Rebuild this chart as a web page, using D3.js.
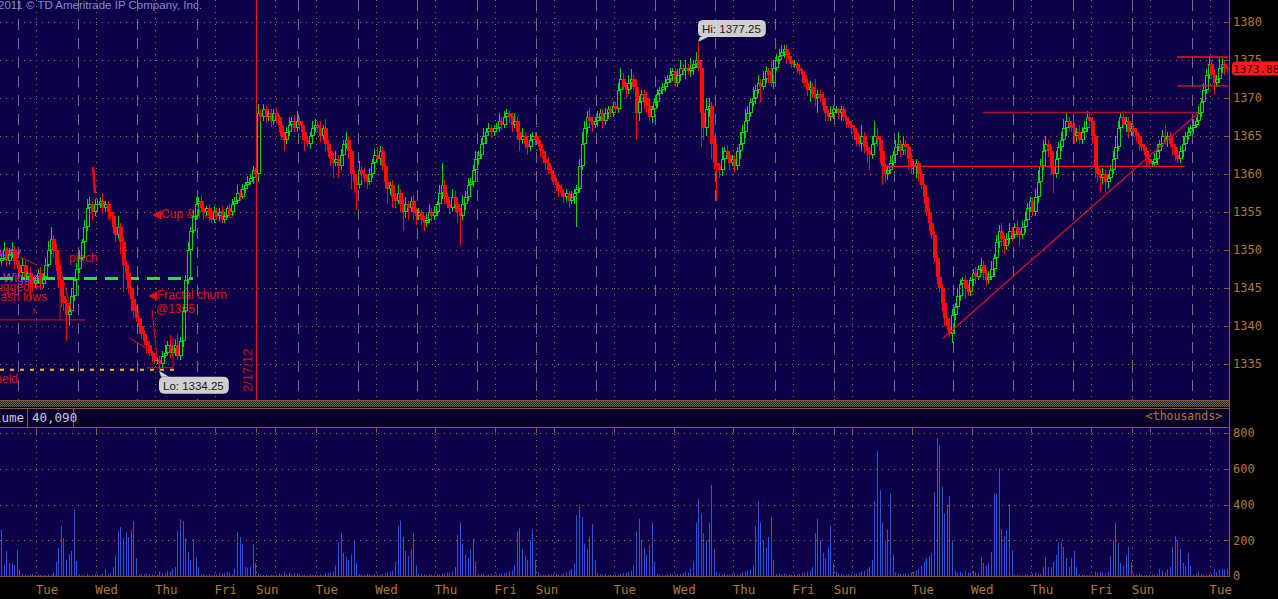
<!DOCTYPE html>
<html>
<head>
<meta charset="utf-8">
<script src="https://cdn.jsdelivr.net/npm/d3@7"></script>
<style>
  body { margin: 0; background: #000; }
  svg { display: block; }
</style>
</head>
<body>
<script>
// ---- data: hourly /ES bars, grouped by session (blank label = no axis label) ----
const sessionLabels = ["", "Tue", "Wed", "Thu", "Fri", "Sun", "", "Tue", "Wed", "Thu", "Fri", "Sun", "",
  "Tue", "Wed", "Thu", "Fri", "Sun", "", "Tue", "Wed", "Thu", "Fri", "Sun", "", "Tue"];
// bar offset of the 17:00 session open inside each session (null = none)
const sessionOpenAt = [7, 16, 16, 16, null, 0, 9, 16, 16, 16, null, 0, 16,
  16, 16, 16, null, 0, 16, 16, 16, 16, null, 0, 16, null];

const firstOpen = 1348.5;
const closes = [
  [1349, 1350, 1348.5, 1349.5, 1350, 1348.5, 1348, 1347, 1348, 1346.5, 1347, 1346, 1345.5, 1346],
  [1347, 1345.5, 1346.5, 1348, 1350, 1351.5, 1350, 1348, 1346, 1344, 1343, 1341.5, 1342, 1344, 1346, 1347.5, 1349, 1351, 1353, 1355.5, 1356, 1355, 1356],
  [1356, 1356.5, 1355.5, 1356, 1355, 1354.5, 1353, 1352, 1353, 1351, 1348, 1347, 1345, 1343.5, 1342, 1341, 1340, 1339, 1338, 1337.5, 1336.5, 1336, 1335.5],
  [1335.5, 1335, 1336, 1336.5, 1337.5, 1336.5, 1337, 1337.5, 1336, 1338, 1342, 1346, 1350, 1352.5, 1354.5, 1356, 1356.5, 1355.5, 1355, 1355.5, 1354.5, 1354, 1355],
  [1354.5, 1355, 1354, 1354.5, 1355.5, 1355, 1356, 1356.5, 1357.5, 1357, 1358, 1358.5, 1359, 1359.5, 1360.5, 1360],
  [1368, 1367.5, 1368.5, 1367.5, 1368, 1367, 1368],
  [1367.5, 1366.5, 1365, 1364.5, 1365.5, 1366.5, 1367, 1366, 1367, 1366.5, 1365.5, 1364.5, 1364, 1365, 1366, 1366.5],
  [1366, 1365, 1366, 1364, 1363, 1362, 1361.5, 1362, 1361, 1362.5, 1364, 1364.5, 1363, 1360, 1359, 1358.5, 1360.5, 1360, 1359.5, 1359, 1360, 1361.5, 1362.5],
  [1362, 1363, 1361, 1359, 1358, 1358.5, 1357, 1356.5, 1357.5, 1356, 1355, 1356, 1355.5, 1356.5, 1355, 1354.5, 1355, 1354, 1353.5, 1354, 1355, 1354.5, 1355],
  [1356, 1357.5, 1358.5, 1357, 1356, 1355.5, 1357, 1356, 1355, 1354.5, 1356, 1357, 1358.5, 1359, 1360.5, 1362, 1362.5, 1364, 1365, 1365.5, 1366, 1365.5, 1366],
  [1366, 1367, 1366.5, 1367.5, 1368, 1367.5, 1366.5, 1367, 1365.5, 1364.5, 1365, 1364, 1363.5, 1364.5, 1365, 1364.5],
  [1364, 1363, 1362, 1361.5, 1360.5, 1360, 1359],
  [1358.5, 1358, 1357.5, 1357, 1357.5, 1356.5, 1357, 1357.5, 1358, 1361, 1364, 1366, 1367.5, 1367, 1366.5, 1367, 1367.5, 1368, 1367, 1368, 1368.5, 1368, 1369],
  [1368.5, 1371, 1372.5, 1371.5, 1371, 1372, 1372.5, 1371.5, 1368, 1369.5, 1370.5, 1370, 1369, 1367.5, 1368.5, 1369.5, 1370.5, 1371, 1371.5, 1372, 1372.5, 1373, 1373.5],
  [1372, 1373, 1374, 1373.5, 1374, 1373.5, 1374, 1374.5, 1375, 1374, 1368, 1366, 1368.5, 1369, 1364, 1361.5, 1361, 1360.5, 1362, 1363, 1362.5, 1361.5, 1362],
  [1361, 1363, 1364, 1365.5, 1367, 1368, 1369.5, 1370, 1371, 1372, 1371.5, 1372.5, 1373.5, 1373, 1372, 1374, 1375, 1375.5, 1376, 1376.5, 1375.5, 1375, 1374.5],
  [1374.5, 1374, 1373.5, 1373, 1372, 1371, 1371.5, 1370.5, 1370, 1370.5, 1370, 1369, 1368, 1367.5, 1368, 1368.5],
  [1368.5, 1368, 1368.5, 1367.5, 1367, 1366.5, 1366],
  [1365.5, 1364.5, 1364, 1365, 1363.5, 1363, 1362.5, 1364, 1365, 1364.5, 1363, 1361, 1360, 1360.5, 1361.5, 1362.5, 1363.5, 1364, 1363, 1364, 1363.5, 1362, 1361],
  [1361, 1361.5, 1360, 1358.5, 1357, 1355, 1353.5, 1352, 1349, 1346.5, 1345, 1343, 1341, 1340, 1339, 1341.5, 1342.5, 1344, 1345.5, 1346, 1345, 1344.5, 1346],
  [1347, 1346.5, 1347.5, 1348, 1347, 1346, 1346.5, 1347.5, 1349, 1351, 1352.5, 1351.5, 1350.5, 1351.5, 1352.5, 1352, 1353, 1352.5, 1352, 1353, 1354, 1355.5, 1356.5],
  [1355, 1357, 1359, 1361, 1363, 1364, 1363, 1361, 1360, 1362, 1363.5, 1364.5, 1366, 1367, 1366.5, 1366, 1365, 1365.5, 1364.5, 1365.5, 1366, 1367.5, 1367],
  [1365, 1361, 1360, 1359.5, 1360, 1359, 1359.5, 1360.5, 1362, 1363.5, 1366, 1367.5, 1366.5, 1367, 1365.5, 1366],
  [1365.5, 1365, 1364, 1363.5, 1363, 1362, 1361.5],
  [1361.5, 1362, 1363, 1364, 1365, 1364.5, 1365, 1364, 1363.5, 1362.5, 1362, 1363, 1364, 1365, 1365.5, 1366, 1366.5, 1367, 1368, 1369.5, 1371, 1373, 1374.5],
  [1373, 1372, 1372.5, 1374, 1374.5, 1374, 1373.75]
];
// wick length above / below the body, points
const wickHi = [
  [0.5, 1, 0.25, 0.75, 1, 0.5, 0.25, 0.5, 1, 0.5, 0.25, 0.75, 0.5, 0.5],
  [0.5, 0.75, 0.5, 1, 1.25, 1.5, 0.5, 0.75, 0.5, 0.25, 1, 0.5, 0.75, 1, 0.5, 0.75, 1, 0.5, 1, 1.25, 1, 0.5, 0.75],
  [0.75, 0.5, 1, 0.5, 0.5, 0.75, 0.5, 1, 1.5, 0.5, 0.75, 0.5, 1, 0.25, 0.5, 0.75, 0.25, 0.5, 0.5, 0.25, 0.5, 0.25, 0.5],
  [0.25, 0.5, 0.75, 1, 0.5, 1.25, 0.5, 0.75, 1.5, 0.5, 0.5, 0.75, 1, 0.5, 0.75, 1, 0.5, 0.75, 0.5, 0.25, 0.5, 0.5, 0.75],
  [0.5, 0.5, 0.75, 0.5, 0.25, 0.5, 0.75, 0.5, 1, 0.5, 0.75, 0.5, 0.75, 0.5, 0.5, 0.25],
  [1.25, 0.5, 0.75, 0.5, 0.25, 0.5, 0.5],
  [0.5, 0.25, 0.5, 0.5, 0.75, 1, 0.5, 0.75, 1.25, 0.5, 0.5, 0.75, 0.5, 0.5, 1, 0.75],
  [0.5, 1, 0.5, 1.25, 0.5, 0.5, 0.75, 1, 0.5, 0.75, 0.5, 1, 0.5, 0.25, 0.5, 0.5, 1.25, 0.5, 0.75, 0.5, 0.75, 0.5, 0.75],
  [1, 0.75, 0.5, 0.5, 1.25, 0.5, 0.75, 0.5, 1, 0.5, 0.75, 1, 0.5, 0.5, 0.75, 0.5, 0.5, 0.25, 0.5, 0.75, 1, 0.5, 0.75],
  [0.5, 1, 3, 0.75, 0.5, 0.5, 1, 0.75, 0.5, 0.5, 1.25, 0.75, 1, 0.5, 0.75, 1, 0.5, 0.75, 1, 0.5, 0.75, 0.5, 0.5],
  [0.75, 1, 0.5, 0.75, 0.5, 0.25, 0.5, 1, 0.5, 0.75, 1, 0.5, 0.25, 0.75, 0.5, 0.5],
  [0.5, 0.5, 0.25, 0.5, 0.75, 0.5, 0.25],
  [0.5, 0.5, 0.75, 0.5, 0.5, 0.25, 0.75, 0.5, 0.5, 1, 1.5, 1, 0.75, 1.25, 0.5, 0.5, 0.75, 0.5, 0.5, 0.75, 0.5, 0.5, 0.5],
  [0.5, 1, 1.5, 0.75, 0.5, 1, 1.25, 0.5, 1, 0.75, 0.5, 0.5, 0.75, 1, 0.5, 0.5, 0.75, 0.5, 0.5, 0.75, 0.5, 1, 0.5],
  [0.5, 0.75, 1, 0.5, 1, 0.5, 1.25, 0.5, 1, 2.25, 1, 1, 1.5, 1, 0.5, 0.75, 0.5, 0.5, 1.5, 0.5, 0.75, 0.5, 0.5],
  [0.5, 0.5, 1.5, 1, 1.5, 1, 0.5, 1.5, 0.75, 1, 0.5, 1, 0.75, 0.5, 2, 1, 0.75, 1, 1, 0.5, 0.5, 0.5, 0.25],
  [0.5, 0.25, 0.5, 0.25, 0.5, 0.5, 0.75, 0.5, 2, 0.5, 0.5, 0.75, 0.5, 0.5, 1, 0.5],
  [0.5, 0.25, 0.5, 0.5, 0.25, 0.5, 0.5],
  [0.5, 0.5, 0.75, 1.5, 0.5, 0.75, 0.5, 1, 2, 1, 0.5, 0.5, 0.5, 0.75, 1, 0.5, 1, 1.5, 0.5, 1, 0.5, 0.5, 0.75],
  [0.75, 0.5, 0.25, 0.5, 0.25, 0.5, 0.5, 0.25, 0.5, 0.5, 0.25, 0.5, 0.25, 0.5, 0.25, 0.75, 0.5, 1, 0.75, 0.5, 0.75, 0.5, 0.5],
  [0.5, 0.75, 0.5, 1, 0.5, 0.5, 0.75, 1, 0.5, 1, 0.75, 1, 0.5, 0.75, 1, 0.5, 0.5, 1, 0.5, 0.75, 1, 0.75, 0.5],
  [0.5, 1, 1.5, 1, 1.5, 1, 0.5, 0.75, 1, 1, 0.75, 1, 1.25, 1, 0.5, 0.5, 0.75, 0.5, 1, 0.75, 1, 0.75, 0.5],
  [0.5, 0.25, 0.5, 0.5, 0.75, 0.5, 0.5, 0.75, 1, 1.5, 1, 0.5, 0.75, 0.5, 0.5, 0.75],
  [0.5, 0.5, 0.25, 0.5, 0.5, 0.25, 0.5],
  [0.25, 0.75, 1, 0.5, 0.75, 1.5, 0.5, 0.5, 0.25, 0.5, 1, 0.75, 1, 0.5, 0.75, 0.5, 0.75, 0.5, 1, 0.5, 1, 0.75, 1],
  [0.5, 0.75, 0.5, 1.25, 0.75, 0.5, 0.25]
];
const wickLo = [
  [0.5, 0.25, 0.75, 0.5, 0.5, 1, 0.5, 0.75, 0.5, 1, 0.5, 2.5, 1, 0.5],
  [0.5, 0.75, 0.5, 0.5, 0.25, 0.5, 1, 0.75, 1, 1.5, 1, 3.5, 1.5, 0.5, 0.75, 0.5, 0.5, 0.25, 0.5, 0.5, 0.75, 1, 0.5],
  [0.5, 0.5, 0.75, 0.5, 1, 0.5, 0.75, 1, 0.5, 1.5, 3.5, 1, 0.75, 1.5, 1, 0.5, 1, 0.75, 0.5, 1, 0.5, 0.75, 0.5],
  [0.5, 0.75, 0.5, 0.25, 0.5, 0.75, 0.5, 1, 0.5, 0.5, 0.75, 1, 0.5, 0.5, 0.25, 0.5, 0.75, 0.5, 1, 0.5, 0.75, 0.5, 0.5],
  [0.5, 0.75, 0.5, 0.5, 0.25, 0.5, 0.5, 0.75, 0.5, 0.5, 0.25, 0.5, 0.5, 0.5, 0.75, 0.5],
  [1, 0.5, 0.5, 0.75, 0.5, 0.75, 0.5],
  [0.75, 1, 0.5, 1.5, 0.5, 0.5, 0.75, 0.5, 0.5, 0.75, 1, 1.5, 0.5, 0.75, 0.5, 0.5],
  [0.5, 0.75, 0.5, 1, 0.75, 1, 2, 0.5, 1.5, 0.5, 0.5, 0.75, 1, 2, 1.5, 3.25, 0.5, 0.75, 0.5, 1, 0.5, 0.5, 0.5],
  [0.5, 0.75, 0.5, 1, 2, 0.75, 1.5, 1, 0.5, 1, 2.5, 0.75, 1.5, 0.5, 1, 1.25, 0.5, 0.75, 1, 0.5, 0.5, 0.75, 0.5],
  [0.5, 0.5, 0.75, 1, 0.5, 0.75, 0.5, 1, 1.5, 4, 0.5, 0.75, 0.5, 0.5, 0.75, 0.5, 0.75, 0.5, 0.5, 1, 0.5, 0.75, 0.5],
  [0.5, 0.5, 0.75, 0.5, 0.5, 0.75, 1, 0.5, 1, 1.5, 0.5, 0.75, 1, 0.5, 0.5, 0.75],
  [0.5, 0.75, 0.5, 1, 0.5, 0.75, 0.5],
  [0.75, 1, 0.5, 0.75, 0.5, 1, 0.5, 1, 4.5, 0.5, 0.5, 0.5, 0.75, 0.5, 1, 0.5, 0.75, 0.5, 1, 0.5, 0.75, 0.5, 0.5],
  [0.5, 0.5, 0.75, 0.5, 1, 0.5, 0.75, 0.5, 3.5, 1, 0.5, 1.5, 1, 0.5, 0.75, 0.5, 0.75, 0.5, 0.5, 0.75, 0.5, 0.5, 0.75],
  [0.5, 0.5, 0.75, 0.5, 1, 0.5, 0.75, 1, 0.5, 0.5, 4.5, 1.5, 1, 1, 2, 1, 4.5, 1, 0.75, 0.5, 0.5, 1, 0.5],
  [0.75, 0.5, 1, 0.5, 0.75, 1, 0.5, 0.5, 0.75, 0.5, 2, 0.5, 0.5, 1, 0.5, 0.75, 0.5, 0.5, 0.5, 0.75, 1, 0.5, 0.5],
  [0.5, 0.75, 0.5, 1, 0.5, 0.75, 1.5, 0.5, 1, 2, 0.5, 0.75, 1, 0.5, 0.5, 0.75],
  [0.5, 0.75, 1, 0.5, 1, 0.5, 0.75],
  [1, 0.75, 0.5, 1, 0.75, 1.5, 2, 0.5, 0.5, 1, 1.5, 2.5, 1, 0.75, 0.5, 0.5, 1, 0.5, 0.75, 0.5, 1, 1.5, 1],
  [1, 1.5, 1, 0.5, 1, 0.5, 1, 0.5, 0.75, 1, 0.5, 1, 1, 0.5, 0.5, 1.25, 0.75, 0.5, 0.75, 0.5, 1.5, 0.5, 0.5],
  [0.75, 1, 0.5, 0.5, 1, 0.75, 0.5, 0.5, 1, 0.5, 0.75, 1, 1, 0.5, 0.75, 1, 0.5, 0.75, 1.5, 0.5, 0.75, 0.5, 0.5],
  [0.5, 0.5, 0.75, 0.5, 0.5, 1, 0.75, 1, 2.5, 0.5, 0.75, 0.5, 0.5, 1, 1, 0.5, 1, 0.75, 0.5, 0.5, 0.75, 0.5, 0.75],
  [1, 1.5, 1, 2, 1, 1.5, 1, 0.5, 0.5, 0.75, 0.5, 1, 0.75, 1, 0.75, 0.5],
  [0.5, 0.75, 1, 0.5, 0.5, 1, 0.75],
  [0.5, 0.5, 0.75, 0.5, 0.5, 0.5, 1, 0.5, 1, 0.75, 0.5, 0.5, 0.75, 0.5, 0.5, 0.5, 0.75, 0.5, 0.5, 0.5, 0.75, 0.5, 0.5],
  [0.5, 1.5, 0.5, 0.5, 0.75, 1, 0.5]
];
// volume, thousands of contracts
const volume = [
  [257, 60, 140, 72, 70, 60, 145, 35, 10, 6, 5, 8, 12, 6],
  [8, 6, 5, 4, 12, 6, 20, 78, 156, 280, 212, 89, 123, 140, 374, 84, 8, 6, 5, 12, 4, 6, 10],
  [10, 6, 15, 40, 12, 15, 50, 117, 251, 274, 212, 246, 218, 257, 307, 100, 8, 12, 10, 15, 12, 8, 6],
  [8, 25, 15, 18, 30, 25, 40, 50, 251, 318, 307, 212, 134, 89, 207, 106, 50, 8, 10, 6, 8, 5, 6],
  [8, 20, 12, 15, 25, 20, 10, 40, 246, 218, 179, 50, 45, 50, 179, 73],
  [15, 8, 6, 10, 5, 8, 6],
  [10, 15, 8, 20, 12, 18, 10, 15, 14, 8, 5, 6, 4, 10, 6, 8],
  [8, 10, 6, 12, 15, 20, 25, 60, 190, 240, 130, 110, 90, 120, 200, 70, 10, 8, 6, 12, 8, 5, 10],
  [12, 8, 10, 15, 20, 25, 30, 80, 280, 310, 220, 140, 110, 150, 240, 60, 12, 10, 8, 6, 10, 8, 6],
  [10, 8, 12, 15, 20, 18, 25, 50, 230, 300, 180, 120, 100, 150, 210, 80, 10, 8, 12, 6, 8, 10, 6],
  [8, 10, 12, 15, 20, 25, 30, 60, 250, 270, 150, 110, 90, 200, 260, 90],
  [20, 10, 8, 6, 12, 8, 10],
  [12, 10, 8, 15, 20, 30, 40, 70, 340, 400, 330, 180, 150, 220, 290, 90, 15, 10, 8, 12, 6, 10, 8],
  [10, 8, 12, 15, 20, 25, 30, 60, 250, 320, 200, 160, 120, 170, 300, 80, 12, 10, 8, 6, 10, 12, 8],
  [10, 12, 8, 15, 25, 20, 40, 80, 300, 430, 350, 240, 200, 300, 510, 150, 20, 15, 10, 12, 8, 10, 12],
  [15, 10, 12, 20, 25, 30, 35, 60, 280, 420, 300, 200, 160, 220, 330, 90, 12, 10, 8, 15, 10, 8, 6],
  [10, 8, 12, 15, 20, 25, 30, 50, 240, 320, 200, 130, 100, 160, 280, 70],
  [25, 12, 10, 8, 6, 10, 8],
  [15, 12, 20, 25, 30, 40, 50, 90, 420, 700, 480, 300, 200, 260, 460, 120, 20, 15, 12, 10, 15, 12, 20],
  [25, 30, 40, 60, 80, 100, 110, 130, 470, 770, 730, 500, 350, 400, 450, 200, 30, 20, 25, 15, 30, 20, 15],
  [30, 20, 15, 106, 73, 60, 73, 134, 464, 458, 603, 263, 223, 257, 402, 145, 8, 6, 5, 4, 8, 10, 6],
  [15, 20, 10, 12, 50, 106, 50, 50, 78, 117, 184, 190, 162, 100, 50, 100, 140, 50, 10, 8, 6, 5, 8],
  [6, 25, 20, 25, 20, 15, 25, 112, 200, 300, 184, 73, 56, 117, 162, 78],
  [12, 8, 10, 6, 4, 5, 8],
  [8, 6, 10, 40, 28, 20, 35, 50, 162, 223, 200, 151, 73, 55, 128, 55, 8, 12, 25, 10, 8, 6, 10],
  [12, 40, 20, 35, 40, 38, 40.09]
];
const priceTicks = [1335, 1340, 1345, 1350, 1355, 1360, 1365, 1370, 1375, 1380];
const volumeTicks = [0, 200, 400, 600, 800];
const lastPriceText = "1373.88";
const lastVolumeText = "40,090";

// drawings on the chart: [barFrom, priceFrom, barTo, priceTo, colour, width]
const drawnLines = [
  [364, 1338.4, 462.4, 1368, "#c8102a", 1.4],
  [340.8, 1361, 457.4, 1361, "#ff1010", 1.4],
  [379.4, 1368.1, 462.4, 1368.1, "#b01028", 1.6],
  [454.3, 1375.4, 474, 1375.4, "#ff1010", 1.4],
  [454.6, 1371.6, 474, 1371.6, "#ff1010", 1.4],
  [0, 1340.8, 32.8, 1340.8, "#e01010", 1],
  [7.7, 1349.1, 14.3, 1348.0, "#e01010", 1],
  [23.2, 1348.9, 23.2, 1340.8, "#e01010", 1],
  [20.5, 1351.0, 27.8, 1341.8, "#e01010", 1],
  [35.9, 1360.9, 36.7, 1357.5, "#e01010", 2.5],
  [58.7, 1342.1, 60.6, 1335.9, "#e01010", 1],
  [50.2, 1338.4, 60.6, 1336.2, "#e01010", 1],
  [56.7, 1334.5, 66.8, 1334.5, "#e01010", 1],
  [66.8, 1338.4, 66.8, 1334.5, "#e01010", 1]
];
// notes: [bar, price, text, colour, anchor]
const notes = [
  [8.1, 1349.2, "Sunday", "#d030d0", "end"],
  [1.2, 1345.8, "Wiggle", "#c838c8", "start"],
  [15.4, 1344.6, "Plugged +", "#e01010", "end"],
  [18.1, 1343.3, "Flash lows", "#e01010", "end"],
  [12.4, 1341.6, "\u203a", "#e01010", "start"],
  [26.6, 1348.4, "pinch", "#e01010", "start"],
  [58.7, 1354.2, "\u25c0Cup & handle", "#e01010", "start"],
  [57.1, 1343.5, "\u25c0Fractal churn", "#e01010", "start"],
  [60.2, 1341.7, "@1355", "#e01010", "start"],
  [6.9, 1332.5, "held", "#e01010", "end"]
];
const dateMarkerBar = 99, dateMarkerText = "2/17/12";
const supportLevel = 1346.25, supportEnd = 74.5;
const heldLevel = 1334.25, heldEnd = 68;

// ---- layout ----
const W = 1278, H = 599;
const plotR = 1229;
const priceTop = 0, priceBot = 400;
const volTop = 428, volBot = 576;
const navy = "#0d0049", brown = "#8a5a22", axisText = "#b07a36";
const upCol = "#00dc00", dnCol = "#ff0a0a", volCol = "#2a56dc";
const sans = "'Liberation Sans', Arial, sans-serif";

// flatten sessions into bars
const sessStart = [];
let n = 0;
closes.forEach(s => { sessStart.push(n); n += s.length; });
const total = n;
const flatC = closes.flat(), flatHi = wickHi.flat(), flatLo = wickLo.flat(), flatV = volume.flat();
const bars = flatC.map((c, i) => {
  const o = i === 0 ? firstOpen : flatC[i - 1];
  return { i, o, c, h: Math.max(o, c) + flatHi[i], l: Math.min(o, c) - flatLo[i], v: flatV[i] };
});

const x = d3.scaleLinear().domain([0, total]).range([0, 1228]);
const y = d3.scaleLinear().domain([1335, 1380]).range([364, 22]);
const yv = d3.scaleLinear().domain([0, 800]).range([volBot, 433]);
const cx = i => Math.round(x(i + 0.5));

const svg = d3.select("body").append("svg").attr("width", W).attr("height", H)
  .style("font-family", "'DejaVu Sans Mono', monospace");

svg.append("rect").attr("width", W).attr("height", H).attr("fill", "#000");
svg.append("rect").attr("x", 0).attr("y", priceTop).attr("width", plotR).attr("height", priceBot - priceTop).attr("fill", navy);
svg.append("rect").attr("x", 0).attr("y", volTop).attr("width", plotR).attr("height", volBot - volTop).attr("fill", navy);

// checkered separator + header strip
const defs = svg.append("defs");
const pat = defs.append("pattern").attr("id", "chk").attr("width", 2).attr("height", 2).attr("patternUnits", "userSpaceOnUse");
pat.append("rect").attr("width", 2).attr("height", 2).attr("fill", "#222");
pat.append("rect").attr("width", 1).attr("height", 1).attr("fill", "#6a6a6a");
pat.append("rect").attr("x", 1).attr("y", 1).attr("width", 1).attr("height", 1).attr("fill", "#6a6a6a");
svg.append("rect").attr("x", 0).attr("y", 401).attr("width", plotR).attr("height", 6).attr("fill", "url(#chk)");
svg.append("line").attr("x1", 0).attr("x2", plotR).attr("y1", 400.5).attr("y2", 400.5).attr("stroke", brown);
svg.append("rect").attr("x", 0).attr("y", 408).attr("width", plotR).attr("height", 19).attr("fill", "#08002c");
svg.append("line").attr("x1", 0).attr("x2", plotR).attr("y1", 408.5).attr("y2", 408.5).attr("stroke", brown);
svg.append("line").attr("x1", 0).attr("x2", plotR).attr("y1", 427.5).attr("y2", 427.5).attr("stroke", brown);
[27.5, 73.5].forEach(px => svg.append("line").attr("x1", px).attr("x2", px).attr("y1", 408).attr("y2", 427).attr("stroke", brown));
svg.append("text").attr("x", 24).attr("y", 422).attr("text-anchor", "end").attr("fill", "#c8c8d8").attr("font-size", 12.5).text("Volume");
svg.append("text").attr("x", 32).attr("y", 422).attr("fill", "#c8c8d8").attr("font-size", 12.5).text(lastVolumeText);
svg.append("text").attr("x", 1222).attr("y", 420).attr("text-anchor", "end").attr("fill", axisText).attr("font-size", 11.5).text("<thousands>");

// ---- grid ----
const tickSess = sessionLabels.map((l, k) => k).filter(k => k > 0);
const tickBars = tickSess.map(k => sessStart[k]);
const grid = svg.append("g").attr("fill", "none");
priceTicks.forEach(p => grid.append("line").attr("x1", 0).attr("x2", 1224).attr("y1", Math.round(y(p)) + 0.5).attr("y2", Math.round(y(p)) + 0.5)
  .attr("stroke", "#b07020").attr("stroke-dasharray", "1,5"));
volumeTicks.slice(1).forEach(v => grid.append("line").attr("x1", 0).attr("x2", 1224).attr("y1", Math.round(yv(v)) + 0.5).attr("y2", Math.round(yv(v)) + 0.5)
  .attr("stroke", "#b07020").attr("stroke-dasharray", "1,5"));
tickBars.forEach(b => {
  const px = Math.round(x(b)) + 0.5;
  grid.append("line").attr("x1", px).attr("x2", px).attr("y1", priceTop).attr("y2", priceBot).attr("stroke", "#b07020").attr("stroke-dasharray", "1,5");
  grid.append("line").attr("x1", px).attr("x2", px).attr("y1", volTop).attr("y2", volBot).attr("stroke", "#b07020").attr("stroke-dasharray", "1,5");
  grid.append("line").attr("x1", px).attr("x2", px).attr("y1", volTop).attr("y2", volTop + 5).attr("stroke", brown);
});
sessionOpenAt.forEach((off, k) => {
  if (off === null) return;
  const px = Math.round(x(sessStart[k] + off)) + 0.5;
  grid.append("line").attr("x1", px).attr("x2", px).attr("y1", priceTop).attr("y2", priceBot)
    .attr("stroke", "#6e7084").attr("stroke-dasharray", "11,8");
});

// ---- notes (under the candles) ----
svg.append("text").attr("x", -2).attr("y", 9).attr("fill", "#8a8ac0").attr("font-family", sans)
  .attr("font-size", 11.5).text("2011 \u00a9 TD Ameritrade IP Company, Inc.");
notes.forEach(([b, p, t, col, anc]) => svg.append("text").attr("x", x(b)).attr("y", y(p)).attr("fill", col)
  .attr("text-anchor", anc).attr("font-family", sans).attr("font-size", 12).text(t));

// date marker
const dmx = Math.round(x(dateMarkerBar)) + 0.5;
svg.append("line").attr("x1", dmx).attr("x2", dmx).attr("y1", priceTop).attr("y2", priceBot).attr("stroke", "#ff1010");
svg.append("text").attr("transform", `translate(${dmx - 5},392) rotate(-90)`).attr("fill", "#d01010")
  .attr("font-family", sans).attr("font-size", 13).text(dateMarkerText);

// support / held lines
svg.append("line").attr("x1", 0).attr("x2", x(supportEnd)).attr("y1", y(supportLevel)).attr("y2", y(supportLevel))
  .attr("stroke", "#30e030").attr("stroke-width", 3).attr("stroke-dasharray", "13,8");
svg.append("line").attr("x1", 0).attr("x2", x(heldEnd)).attr("y1", y(heldLevel)).attr("y2", y(heldLevel))
  .attr("stroke", "#f0c010").attr("stroke-width", 2).attr("stroke-dasharray", "4,6");

// ---- volume bars ----
svg.append("g").selectAll("rect").data(bars).join("rect")
  .attr("x", d => cx(d.i)).attr("width", 1)
  .attr("y", d => yv(d.v)).attr("height", d => volBot - yv(d.v))
  .attr("fill", volCol);

// ---- candles ----
const cg = svg.append("g");
bars.forEach(d => {
  const up = d.c >= d.o;
  const col = up ? upCol : dnCol;
  const c = cx(d.i);
  const top = Math.round(y(Math.max(d.o, d.c))), bot = Math.round(y(Math.min(d.o, d.c)));
  cg.append("line").attr("x1", c + 0.5).attr("x2", c + 0.5).attr("y1", Math.round(y(d.h))).attr("y2", top).attr("stroke", col);
  cg.append("line").attr("x1", c + 0.5).attr("x2", c + 0.5).attr("y1", bot).attr("y2", Math.round(y(d.l))).attr("stroke", col);
  if (bot - top < 2) {
    cg.append("rect").attr("x", c - 1).attr("y", top).attr("width", 4).attr("height", Math.max(1, bot - top)).attr("fill", col);
  } else if (up) {
    cg.append("rect").attr("x", c - 0.5).attr("y", top + 0.5).attr("width", 3).attr("height", bot - top - 1)
      .attr("fill", "none").attr("stroke", col);
  } else {
    cg.append("rect").attr("x", c - 1).attr("y", top).attr("width", 4).attr("height", bot - top).attr("fill", col);
  }
});

// ---- drawn lines on top ----
drawnLines.forEach(([b1, p1, b2, p2, col, w]) => svg.append("line")
  .attr("x1", x(b1)).attr("y1", y(p1)).attr("x2", x(b2)).attr("y2", y(p2)).attr("stroke", col).attr("stroke-width", w));

// ---- hi / lo callouts ----
const hiBar = bars.reduce((a, b) => b.h > a.h ? b : a);
const loBar = bars.reduce((a, b) => b.l < a.l ? b : a);
function callout(bar, val, above) {
  const tx = cx(bar.i), ty = above ? y(val) - 1 : y(val) + 1;
  const bh = 17;
  const by = above ? ty - 22 : ty + 6;
  const g = svg.append("g");
  const edge = above ? by + bh : by;
  const ptr = g.append("path").attr("fill", "#cfcfcf");
  const box = g.append("rect").attr("x", tx).attr("y", by).attr("height", bh).attr("rx", 5).attr("fill", "#cfcfcf");
  const t = g.append("text").attr("x", tx + 4).attr("y", by + 13).attr("fill", "#1a1a1a")
    .attr("font-family", sans).attr("font-size", 11.5)
    .text((above ? "Hi: " : "Lo: ") + d3.format(".2f")(val));
  box.attr("width", t.node().getComputedTextLength() + 9);
  ptr.attr("d", `M${tx + 2},${edge} L${tx},${ty} L${tx + 10},${edge} Z`);
}
callout(hiBar, hiBar.h, true);
callout(loBar, loBar.l, false);

// ---- right axes ----
svg.append("line").attr("x1", plotR + 0.5).attr("x2", plotR + 0.5).attr("y1", 0).attr("y2", volBot).attr("stroke", brown);
const ya = svg.append("g").attr("transform", `translate(${plotR},0)`)
  .call(d3.axisRight(y).tickValues(priceTicks).tickSize(0).tickPadding(4).tickFormat(d3.format("d")));
ya.select(".domain").remove();
ya.selectAll("text").attr("fill", axisText).attr("font-size", 12).attr("font-family", "'DejaVu Sans Mono', monospace");
priceTicks.forEach(p => svg.append("line").attr("x1", plotR - 5).attr("x2", plotR).attr("y1", Math.round(y(p)) + 0.5).attr("y2", Math.round(y(p)) + 0.5).attr("stroke", brown));

const va = svg.append("g").attr("transform", `translate(${plotR},0)`)
  .call(d3.axisRight(yv).tickValues(volumeTicks).tickSize(0).tickPadding(4));
va.select(".domain").remove();
va.selectAll("text").attr("fill", axisText).attr("font-size", 12).attr("font-family", "'DejaVu Sans Mono', monospace");
volumeTicks.forEach(v => svg.append("line").attr("x1", plotR - 5).attr("x2", plotR).attr("y1", Math.round(yv(v)) + 0.5).attr("y2", Math.round(yv(v)) + 0.5).attr("stroke", brown));

// last price tag
const lp = y(+lastPriceText);
svg.append("rect").attr("x", plotR + 3).attr("y", lp - 7).attr("width", 52).attr("height", 14).attr("rx", 4).attr("fill", "#ff1a1a");
svg.append("text").attr("x", plotR + 4).attr("y", lp + 4.5).attr("fill", "#3a0000").attr("font-size", 11).text(lastPriceText);

// ---- bottom axis ----
svg.append("line").attr("x1", 0).attr("x2", plotR + 1).attr("y1", volBot + 0.5).attr("y2", volBot + 0.5).attr("stroke", brown);
const labelByBar = new Map(tickSess.map(k => [sessStart[k], sessionLabels[k]]));
const xa = svg.append("g").attr("transform", `translate(0,${volBot})`)
  .call(d3.axisBottom(x).tickValues(tickBars).tickSize(0).tickFormat(b => labelByBar.get(b)));
xa.select(".domain").remove();
xa.selectAll("text").attr("text-anchor", "start").attr("dx", -1).attr("y", 9)
  .attr("fill", axisText).attr("font-size", 12.5).attr("font-family", "'DejaVu Sans Mono', monospace");
</script>
</body>
</html>
